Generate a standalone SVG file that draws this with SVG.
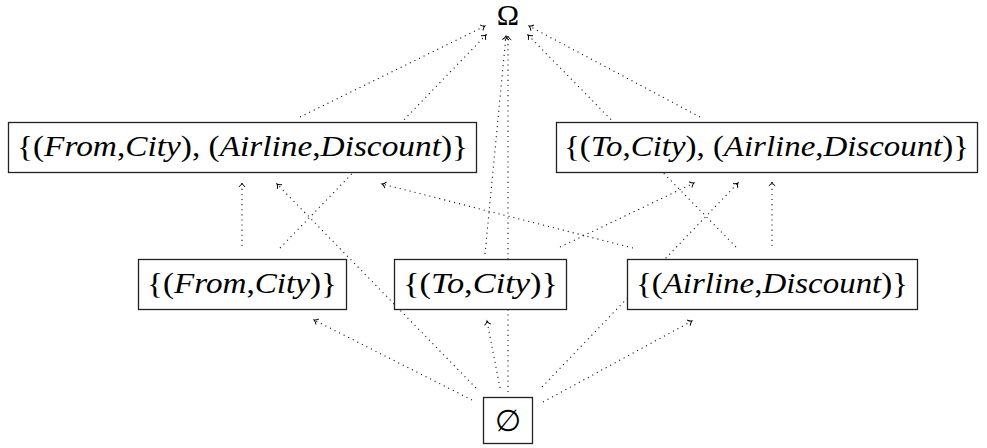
<svg xmlns="http://www.w3.org/2000/svg" width="987" height="448" viewBox="0 0 987 448">
<style>
  .box { fill: #fff; stroke: #222; stroke-width: 1.3; }
  .lbl { font-family: "Liberation Serif", "DejaVu Serif", serif; font-size: 30px; fill: #000; }
  .it { font-style: italic; }
  .edge { stroke: #111; stroke-width: 1.1; stroke-dasharray: 1.1 4; fill: none; marker-end: url(#arr); }
</style>
<defs>
  <marker id="arr" markerUnits="userSpaceOnUse" markerWidth="12" markerHeight="12" refX="0" refY="0" orient="auto" overflow="visible" viewBox="-6 -6 12 12">
    <path d="M -3.8,-3.2 C -2.6,-1.2 -1.2,-0.4 0,0 C -1.2,0.4 -2.6,1.2 -3.8,3.2" fill="none" stroke="#000" stroke-width="1" stroke-dasharray="none"/>
  </marker>
</defs>
<g id="connectors">
  <line class="edge" x1="300" y1="117" x2="485" y2="26"/>
  <line class="edge" x1="280" y1="248" x2="486" y2="35"/>
  <line class="edge" x1="485" y1="254" x2="506" y2="36"/>
  <line class="edge" x1="508" y1="392" x2="508" y2="36"/>
  <line class="edge" x1="736" y1="247" x2="528" y2="35"/>
  <line class="edge" x1="700" y1="117" x2="529" y2="26"/>
  <line class="edge" x1="242" y1="246" x2="242" y2="183"/>
  <line class="edge" x1="476" y1="388" x2="277" y2="184"/>
  <line class="edge" x1="633" y1="248" x2="382" y2="184"/>
  <line class="edge" x1="560" y1="247" x2="694" y2="183"/>
  <line class="edge" x1="542" y1="387" x2="738" y2="183"/>
  <line class="edge" x1="772" y1="246" x2="772" y2="182"/>
  <line class="edge" x1="472" y1="400" x2="314" y2="320"/>
  <line class="edge" x1="500" y1="388" x2="487" y2="321"/>
  <line class="edge" x1="543" y1="402" x2="692" y2="321"/>
</g>
<g id="omega">
  <text class="lbl" x="508" y="25" text-anchor="middle" font-size="28">Ω</text>
</g>
<g id="from-airline">
  <rect class="box" x="8.5" y="122.5" width="468" height="50"/>
  <text class="lbl" x="17" y="156" textLength="451" lengthAdjust="spacingAndGlyphs">{(<tspan class="it">From</tspan>,<tspan class="it">City</tspan>), (<tspan class="it">Airline</tspan>,<tspan class="it">Discount</tspan>)}</text>
</g>
<g id="to-airline">
  <rect class="box" x="556.5" y="122.5" width="421" height="50"/>
  <text class="lbl" x="564" y="156" textLength="405" lengthAdjust="spacingAndGlyphs">{(<tspan class="it">To</tspan>,<tspan class="it">City</tspan>), (<tspan class="it">Airline</tspan>,<tspan class="it">Discount</tspan>)}</text>
</g>
<g id="from">
  <rect class="box" x="138.5" y="259.5" width="208" height="50"/>
  <text class="lbl" x="147" y="293" textLength="190" lengthAdjust="spacingAndGlyphs">{(<tspan class="it">From</tspan>,<tspan class="it">City</tspan>)}</text>
</g>
<g id="to">
  <rect class="box" x="394.5" y="259.5" width="172" height="50"/>
  <text class="lbl" x="403" y="293" textLength="155" lengthAdjust="spacingAndGlyphs">{(<tspan class="it">To</tspan>,<tspan class="it">City</tspan>)}</text>
</g>
<g id="airline">
  <rect class="box" x="627.5" y="259.5" width="290" height="50"/>
  <text class="lbl" x="636" y="293" textLength="272" lengthAdjust="spacingAndGlyphs">{(<tspan class="it">Airline</tspan>,<tspan class="it">Discount</tspan>)}</text>
</g>
<g id="empty">
  <rect class="box" x="483.5" y="397.5" width="49" height="46"/>
  <text x="508" y="431" text-anchor="middle" font-family="DejaVu Serif, serif" font-size="30" fill="#000">∅</text>
</g>
</svg>
